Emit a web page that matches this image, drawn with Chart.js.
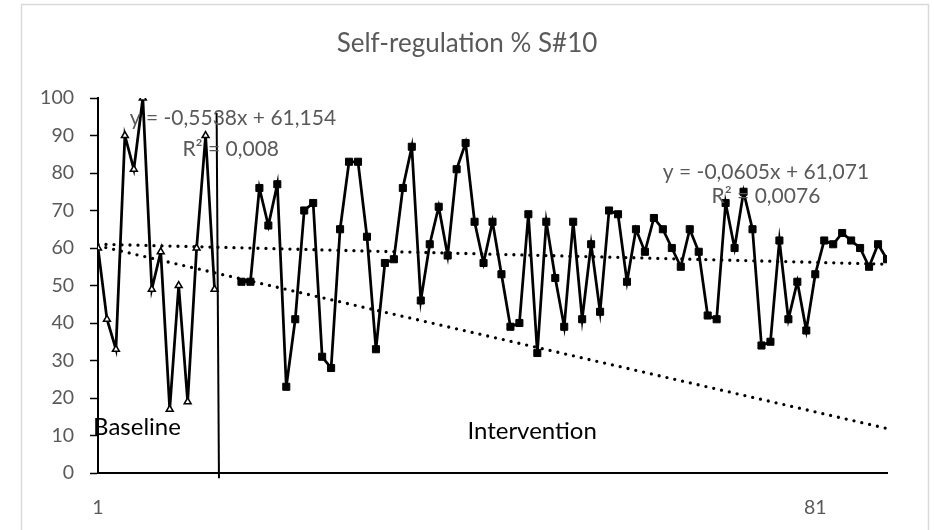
<!DOCTYPE html>
<html>
<head>
<meta charset="utf-8">
<script src="https://cdn.jsdelivr.net/npm/chart.js@4.4.1/dist/chart.umd.min.js"></script>
<style>
  html, body { margin: 0; padding: 0; background: #ffffff; }
  #wrap { width: 934px; height: 530px; position: relative; }
</style>
</head>
<body>
<div id="wrap"><canvas id="c" width="934" height="530"></canvas></div>
<script>
// ---- data ----
const chartTitle = "Self-regulation % S#10";
const baselineStart = 1;
const baselineValues = [60, 41, 33, 90, 81, 100, 49, 59, 17, 50, 19, 60, 90, 49];
const interventionStart = 17;
const interventionValues = [
  51, 51, 76, 66, 77, 23, 41, 70, 72, 31, 28, 65, 83, 83, 63, 33,
  56, 57, 76, 87, 46, 61, 71, 58, 81, 88, 67, 56, 67, 53, 39, 40,
  69, 32, 67, 52, 39, 67, 41, 61, 43, 70, 69, 51, 65, 59, 68, 65,
  60, 55, 65, 59, 42, 41, 72, 60, 75, 65, 34, 35, 62, 41, 51, 38,
  53, 62, 61, 64, 62, 60, 55, 61, 57
];
const xTickLabels = [1, 81];
const yTickValues = [0, 10, 20, 30, 40, 50, 60, 70, 80, 90, 100];
const xRange = [1, 89];
// trendline equations shown on the chart (slope, intercept)
const baselineTrend = { slope: -0.5538, intercept: 61.154, eq: "y = -0,5538x + 61,154", r2: "R² = 0,008" };
const interventionTrend = { slope: -0.0605, intercept: 61.071, eq: "y = -0,0605x + 61,071", r2: "R² = 0,0076" };
// phase change line (x, y) ends
const phaseLineX = [14.23, 14.49];
const phaseLineY = [96, -1.4];
const phaseLabels = ["Baseline", "Intervention"];

// ---- build datasets ----
const toPts = (arr, start) => arr.map((v, i) => ({ x: start + i, y: v }));
const trendPts = t => xRange.map(x => ({ x: x, y: t.slope * x + t.intercept }));

const grey = '#595959';
const FONT = 'Lato, "Open Sans", sans-serif';

const annotationPlugin = {
  id: 'annots',
  beforeDraw(chart) {
    const ctx = chart.ctx;
    ctx.save();
    ctx.fillStyle = '#ffffff';
    ctx.fillRect(0, 0, chart.width, chart.height);
    ctx.strokeStyle = '#d9d9d9';
    ctx.lineWidth = 1.5;
    ctx.strokeRect(21.5, 4.5, 907, 540);
    ctx.restore();
  },
  afterDraw(chart) {
    const ctx = chart.ctx;
    const xs = chart.scales.x, ys = chart.scales.y;
    ctx.save();
    // title
    ctx.fillStyle = grey;
    ctx.font = '26px ' + FONT;
    ctx.textAlign = 'center';
    ctx.textBaseline = 'alphabetic';
    ctx.fillText(chartTitle, 467, 52);
    // trend equations
    ctx.font = '21px ' + FONT;
    ctx.textBaseline = 'middle';
    ctx.fillText(baselineTrend.eq, xs.getPixelForValue(16.05), ys.getPixelForValue(94.5));
    ctx.fillText(baselineTrend.r2, xs.getPixelForValue(15.8), ys.getPixelForValue(86.4));
    ctx.fillText(interventionTrend.eq, xs.getPixelForValue(75.5), ys.getPixelForValue(80.3));
    ctx.fillText(interventionTrend.r2, xs.getPixelForValue(75.5), ys.getPixelForValue(73.7));
    // phase labels
    ctx.fillStyle = '#000000';
    ctx.font = '24px ' + FONT;
    ctx.textAlign = 'left';
    ctx.fillText(phaseLabels[0], xs.getPixelForValue(0.45), ys.getPixelForValue(12.2));
    ctx.fillText(phaseLabels[1], xs.getPixelForValue(42.2), ys.getPixelForValue(11.1));
    ctx.restore();
  }
};

new Chart(document.getElementById('c'), {
  type: 'line',
  data: {
    datasets: [
      {
        label: 'Baseline trend',
        data: trendPts(baselineTrend),
        borderColor: '#000', borderWidth: 3.3, borderDash: [0, 8], borderCapStyle: 'round',
        pointRadius: 0, fill: false, order: 3
      },
      {
        label: 'Intervention trend',
        data: trendPts(interventionTrend),
        borderColor: '#000', borderWidth: 3.3, borderDash: [0, 8], borderCapStyle: 'round',
        pointRadius: 0, fill: false, order: 3
      },
      {
        label: 'Phase line',
        data: phaseLineX.map((x, i) => ({ x: x, y: phaseLineY[i] })),
        borderColor: '#000', borderWidth: 2, pointRadius: 0, fill: false, clip: false, order: 2
      },
      {
        label: 'Baseline',
        data: toPts(baselineValues, baselineStart),
        borderColor: '#000', borderWidth: 2.75,
        pointStyle: 'triangle', pointRadius: 4, pointBorderWidth: 1.5,
        pointBackgroundColor: '#fff', pointBorderColor: '#000',
        tension: 0, fill: false, order: 1
      },
      {
        label: 'Intervention',
        data: toPts(interventionValues, interventionStart),
        borderColor: '#000', borderWidth: 2.75,
        pointStyle: 'rect', pointRadius: 5, pointBorderWidth: 1,
        pointBackgroundColor: '#000', pointBorderColor: '#000',
        tension: 0, fill: false, order: 0
      }
    ]
  },
  options: {
    responsive: false,
    animation: false,
    devicePixelRatio: 1,
    layout: { padding: { left: 0, top: 98, right: 47, bottom: 0 } },
    plugins: {
      legend: { display: false },
      title: { display: false },
      tooltip: { enabled: false }
    },
    scales: {
      x: {
        type: 'linear',
        min: xRange[0], max: xRange[1],
        afterBuildTicks: s => { s.ticks = xTickLabels.map(v => ({ value: v })); },
        afterFit: s => { s.height = 57; },
        grid: { drawOnChartArea: false, drawTicks: false },
        border: { display: true, color: '#000', width: 2 },
        ticks: { color: grey, font: { family: FONT, size: 19.5 }, padding: 23, maxRotation: 0, autoSkip: false }
      },
      y: {
        min: 0, max: 100,
        afterBuildTicks: s => { s.ticks = yTickValues.map(v => ({ value: v })); },
        afterFit: s => { s.width = 98; },
        grid: { drawOnChartArea: false, drawTicks: true, tickLength: 8, color: '#000', tickWidth: 1.5 },
        border: { display: true, color: '#000', width: 2 },
        ticks: { color: grey, font: { family: FONT, size: 19.5 }, padding: 16 }
      }
    }
  },
  plugins: [annotationPlugin]
});
</script>
</body>
</html>
